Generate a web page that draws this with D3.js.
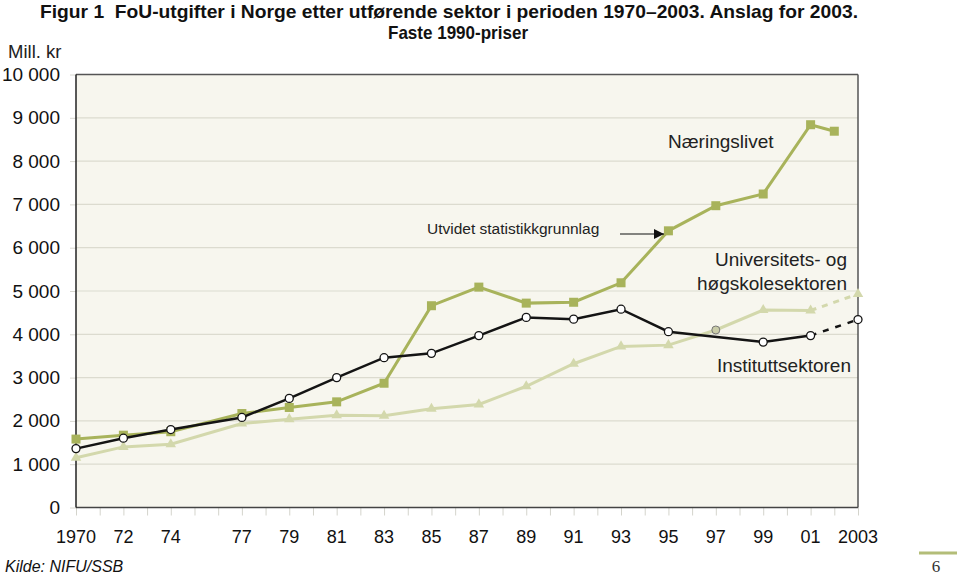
<!DOCTYPE html>
<html><head><meta charset="utf-8">
<script src="https://cdn.jsdelivr.net/npm/d3@7"></script>
<style>body{margin:0;background:#fff}svg{display:block;font-family:"Liberation Sans",Arial,sans-serif}</style>
</head><body>
<svg id="c" width="960" height="575"></svg>
<script>
const xTickYears = [1970,1972,1974,1977,1979,1981,1983,1985,1987,1989,1991,1993,1995,1997,1999,2001,2003];
const xTickLabels = ["1970","72","74","77","79","81","83","85","87","89","91","93","95","97","99","01","2003"];
const yTicks = [0,1000,2000,3000,4000,5000,6000,7000,8000,9000,10000];

const naeringYears = [1970,1972,1974,1977,1979,1981,1983,1985,1987,1989,1991,1993,1995,1997,1999,2001,2002];
const naeringValues = [1580,1670,1750,2170,2310,2440,2870,4660,5090,4720,4740,5190,6390,6970,7240,8840,8690];

const uniYears = [1970,1972,1974,1977,1979,1981,1983,1985,1987,1989,1991,1993,1995,1997,1999,2001];
const uniValues = [1150,1400,1460,1940,2040,2130,2120,2280,2380,2800,3320,3720,3750,4100,4560,4550];
const uniEstYear = 2003, uniEstValue = 4930;

const instYears = [1970,1972,1974,1977,1979,1981,1983,1985,1987,1989,1991,1993,1995,1999,2001];
const instValues = [1360,1600,1800,2080,2520,3000,3460,3560,3970,4390,4350,4580,4060,3820,3970];
const instEstYear = 2003, instEstValue = 4340;

const svg = d3.select("#c");
const L = 76, R = 858, T = 74.5, B = 507.5;
const x = d3.scaleLinear().domain([1970,2003]).range([L,R]);
const y = d3.scaleLinear().domain([0,10000]).range([B,T]);

const cNaer = "#a8b35b", cUni = "#d3d8ac", cInst = "#141414";

// title
svg.append("text").attr("x",40).attr("y",18).attr("font-size",18.5).attr("font-weight","bold")
  .attr("textLength",818).attr("lengthAdjust","spacingAndGlyphs").attr("fill","#111")
  .text("Figur 1\u00a0 FoU-utgifter i Norge etter utførende sektor i perioden 1970–2003. Anslag for 2003.");
svg.append("text").attr("x",388).attr("y",39).attr("font-size",18.5).attr("font-weight","bold")
  .attr("textLength",140).attr("lengthAdjust","spacingAndGlyphs").attr("fill","#111")
  .text("Faste 1990-priser");
svg.append("text").attr("x",8).attr("y",58).attr("font-size",18.5).attr("fill","#222").text("Mill. kr");

// plot bg
svg.append("rect").attr("x",L).attr("y",T).attr("width",R-L).attr("height",B-T).attr("fill","#f7f6ee");

// gridlines
svg.append("g").selectAll("line").data(yTicks.filter(d=>d>0&&d<10000)).join("line")
  .attr("x1",L).attr("x2",R).attr("y1",d=>y(d)).attr("y2",d=>y(d))
  .attr("stroke","#dcdbcf").attr("stroke-width",1.2);

// y axis
const yAxis = svg.append("g").attr("transform",`translate(${L},0)`)
  .call(d3.axisLeft(y).tickValues(yTicks).tickSize(6).tickPadding(10)
    .tickFormat(d=>d3.format(",")(d).replace(/,/g," ")));
yAxis.select(".domain").remove();
yAxis.selectAll(".tick line").attr("stroke","#d8d8d0");
yAxis.selectAll(".tick text").attr("font-size",19).attr("fill","#111")
  .attr("font-family","Liberation Sans, Arial, sans-serif");

// x axis
const xAxis = svg.append("g").attr("transform",`translate(0,${B})`)
  .call(d3.axisBottom(x).tickValues(d3.range(1970,2004)).tickSize(8).tickFormat(""));
xAxis.select(".domain").remove();
xAxis.selectAll(".tick line").attr("stroke","#d4d4cc");
svg.append("g").selectAll("text").data(xTickYears).join("text")
  .attr("x",d=>x(d)).attr("y",543).attr("text-anchor","middle").attr("font-size",18).attr("fill","#111")
  .text((d,i)=>xTickLabels[i]);

// frame
svg.append("line").attr("x1",L).attr("x2",R).attr("y1",T).attr("y2",T).attr("stroke","#555").attr("stroke-width",1.5);
svg.append("line").attr("x1",R).attr("x2",R).attr("y1",T).attr("y2",B).attr("stroke","#555").attr("stroke-width",1.5);
svg.append("line").attr("x1",L).attr("x2",R).attr("y1",B).attr("y2",B).attr("stroke","#444").attr("stroke-width",1.5);
svg.append("line").attr("x1",L).attr("x2",L).attr("y1",T).attr("y2",B).attr("stroke","#222").attr("stroke-width",1.5);

const line = d3.line().x(d=>x(d[0])).y(d=>y(d[1]));
const zip = (a,b)=>a.map((v,i)=>[v,b[i]]);

const uniPts = zip(uniYears,uniValues);
const instPts = zip(instYears,instValues);
const naerPts = zip(naeringYears,naeringValues);

// universities
svg.append("path").attr("d",line([uniPts[uniPts.length-1],[uniEstYear,uniEstValue]]))
  .attr("fill","none").attr("stroke",cUni).attr("stroke-width",3).attr("stroke-dasharray","6,6");
svg.append("path").attr("d",line(uniPts)).attr("fill","none").attr("stroke",cUni).attr("stroke-width",3);
const tri = d3.symbol().type(d3.symbolTriangle).size(48);
svg.append("g").selectAll("path").data(uniPts.concat([[uniEstYear,uniEstValue]]).filter(d=>d[0]!==1997)).join("path")
  .attr("d",tri).attr("transform",d=>`translate(${x(d[0])},${y(d[1])})`).attr("fill",cUni);
svg.append("g").selectAll("circle").data(uniPts.filter(d=>d[0]===1997)).join("circle")
  .attr("cx",d=>x(d[0])).attr("cy",d=>y(d[1])).attr("r",4).attr("fill","#c9cca8").attr("stroke","#777").attr("stroke-width",1);

// næringslivet
svg.append("path").attr("d",line(naerPts)).attr("fill","none").attr("stroke",cNaer).attr("stroke-width",3);
svg.append("g").selectAll("rect").data(naerPts).join("rect")
  .attr("x",d=>x(d[0])-4.5).attr("y",d=>y(d[1])-4.5).attr("width",9).attr("height",9).attr("fill",cNaer);

// institutt
svg.append("path").attr("d",line([instPts[instPts.length-1],[instEstYear,instEstValue]]))
  .attr("fill","none").attr("stroke",cInst).attr("stroke-width",2.5).attr("stroke-dasharray","6,7");
svg.append("path").attr("d",line(instPts)).attr("fill","none").attr("stroke",cInst).attr("stroke-width",2.5);
svg.append("g").selectAll("circle").data(instPts.concat([[instEstYear,instEstValue]])).join("circle")
  .attr("cx",d=>x(d[0])).attr("cy",d=>y(d[1])).attr("r",4).attr("fill","#fff").attr("stroke",cInst).attr("stroke-width",1.3);

// labels
svg.append("text").attr("x",668).attr("y",148).attr("font-size",19).attr("fill","#222").text("Næringslivet");
svg.append("text").attr("x",847).attr("y",266).attr("font-size",19).attr("fill","#222").attr("text-anchor","end").text("Universitets- og");
svg.append("text").attr("x",847).attr("y",290).attr("font-size",19).attr("fill","#222").attr("text-anchor","end").text("høgskolesektoren");
svg.append("text").attr("x",851).attr("y",372).attr("font-size",19).attr("fill","#222").attr("text-anchor","end").text("Instituttsektoren");
svg.append("text").attr("x",427).attr("y",234).attr("font-size",15.5).attr("fill","#222").text("Utvidet statistikkgrunnlag");

// arrow
svg.append("defs").append("marker").attr("id","ah").attr("viewBox","0 0 10 10").attr("refX",10).attr("refY",5)
  .attr("markerWidth",10).attr("markerHeight",10).attr("markerUnits","userSpaceOnUse").attr("orient","auto")
  .append("path").attr("d","M0,0 L10,5 L0,10 Z").attr("fill","#111");
svg.append("line").attr("x1",620).attr("x2",664).attr("y1",234).attr("y2",234)
  .attr("stroke","#111").attr("stroke-width",1.2).attr("marker-end","url(#ah)");

// source
svg.append("text").attr("x",5).attr("y",572).attr("font-size",16).attr("font-style","italic").attr("fill","#111").text("Kilde: NIFU/SSB");

// page number
svg.append("line").attr("x1",919).attr("x2",957).attr("y1",553).attr("y2",553).attr("stroke","#b3bd78").attr("stroke-width",3);
svg.append("text").attr("x",936).attr("y",572).attr("font-size",17).attr("text-anchor","middle")
  .attr("font-family","Liberation Serif, serif").attr("fill","#333").text("6");
</script>
</body></html>
